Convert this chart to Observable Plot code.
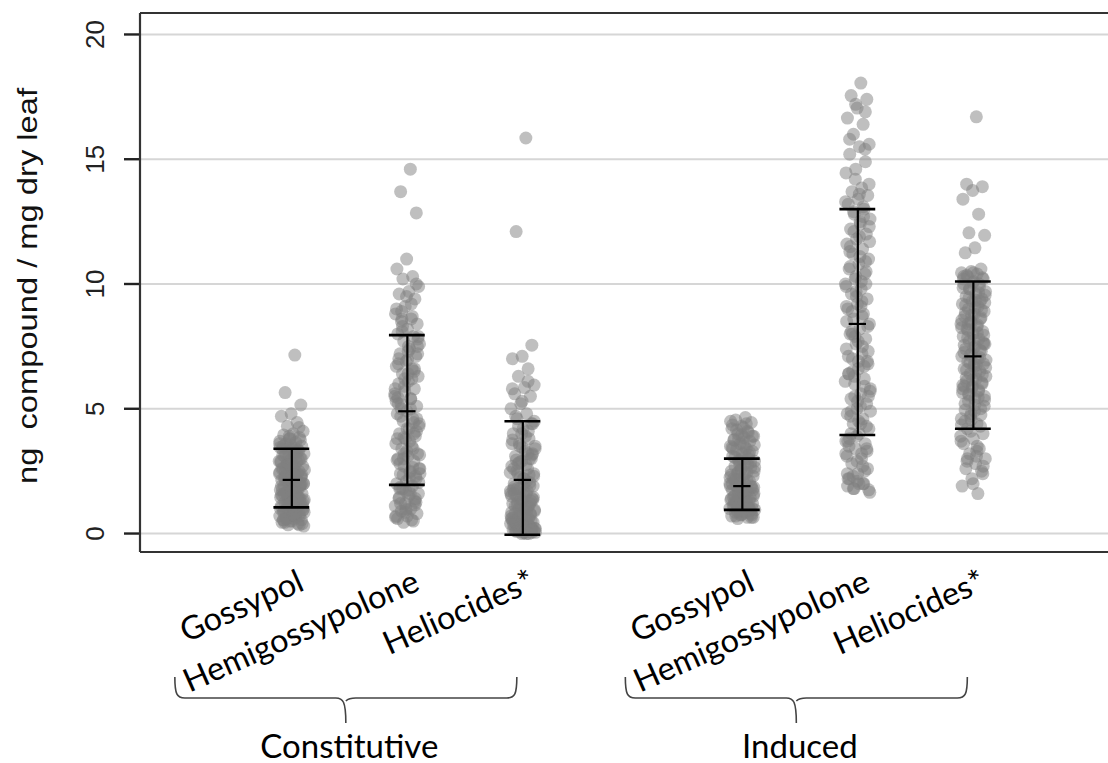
<!DOCTYPE html>
<html><head><meta charset="utf-8">
<script src="https://cdn.jsdelivr.net/npm/d3@7"></script>
<script src="https://cdn.jsdelivr.net/npm/@observablehq/plot@0.6"></script>
<style>
html,body{margin:0;padding:0;background:#fff;}
#chart svg text{white-space:pre;}
</style></head><body><div id="chart"></div>
<script>
// ---- data ----
const treatments = ["Constitutive", "Induced"];
const compounds = ["Gossypol", "Hemigossypolone", "Heliocides*"];
const yTicks = [0, 5, 10, 15, 20];
const yLabel = "ng  compound / mg dry leaf";

const constGossypol = [7.15, 5.65, 5.15, 4.8, 4.7, 4.45, 4.3, 4.1, 4.0, 3.95, 3.85, 3.8, 3.7, 3.65, 3.6, 3.5, 3.45, 3.4, 3.35, 3.3, 3.2, 3.15, 3.1, 3.0, 2.95, 2.9, 2.85, 2.8, 2.7, 2.65, 2.6, 2.5, 2.45, 2.4, 2.35, 2.3, 2.25, 2.2, 2.15, 2.1, 2.05, 2.0, 1.95, 1.9, 1.85, 1.8, 1.75, 1.7, 1.65, 1.6, 1.55, 1.5, 1.45, 1.4, 1.35, 1.3, 1.25, 1.2, 1.15, 1.1, 1.05, 1.0, 0.95, 0.9, 0.85, 0.8, 0.75, 0.7, 0.65, 0.6, 0.55, 0.5, 0.45, 0.4, 0.35, 0.3, 2.55, 2.25, 1.95, 1.7, 1.45, 3.25, 2.75, 1.2, 0.95,
  3.5, 3.3, 3.1, 2.9, 2.7, 2.5, 2.3, 2.1, 1.9, 1.7, 1.5, 1.3, 1.1, 0.9, 0.7, 0.5, 3.45, 3.05, 2.65, 2.35, 2.05, 1.75, 1.45, 1.15, 0.85, 0.6, 0.45, 3.75, 3.55, 2.85, 2.15, 1.55, 1.05, 0.75, 0.55, 4.25, 3.9,
  3.6, 3.4, 3.2, 3.0, 2.8, 2.6, 2.4, 2.2, 2.0, 1.8, 1.6, 1.4, 1.2, 1.0, 0.8, 0.6, 0.4, 3.35, 3.15, 2.95, 2.75, 2.55, 2.35, 2.15, 1.95, 1.75, 1.55, 1.35, 1.15, 0.95, 0.75, 0.55, 0.35, 3.8, 2.45, 1.65, 0.9, 2.0, 1.25];
const constHemigossypolone = [14.6, 13.7, 12.85, 11.0, 10.6, 10.3, 10.2, 9.9, 9.7, 9.6, 9.4, 9.1, 8.8, 8.6, 8.5, 8.4, 8.2, 8.0, 7.9, 7.7, 7.6, 7.4, 7.2, 7.1, 6.9, 6.7, 6.6, 6.4, 6.3, 6.1, 6.0, 5.8, 5.7, 5.5, 5.4, 5.2, 5.1, 4.9, 4.8, 4.6, 4.5, 4.3, 4.2, 4.0, 3.9, 3.8, 3.6, 3.5, 3.4, 3.2, 3.1, 3.0, 2.9, 2.7, 2.6, 2.5, 2.4, 2.2, 2.1, 2.0, 1.9, 1.8, 1.6, 1.5, 1.4, 1.3, 1.2, 1.1, 1.0, 0.9, 0.8, 0.7, 0.6, 0.5, 0.45, 4.4, 3.7, 2.8, 2.3, 1.7, 5.3, 6.2,
  8.1, 7.8, 7.3, 6.8, 6.5, 5.9, 5.6, 5.0, 4.7, 4.1, 3.3, 2.95, 2.65, 2.35, 2.05, 1.75, 1.45, 1.15, 0.85, 0.65, 9.2, 8.9, 7.5, 6.95, 5.45, 4.45, 3.85, 3.15, 2.45, 1.85, 1.25, 0.95,
  9.0, 8.7, 8.3, 7.9, 7.5, 7.0, 6.6, 6.2, 5.8, 5.4, 5.0, 4.6, 4.2, 3.8, 3.4, 3.0, 2.6, 2.2, 1.8, 1.4, 1.0, 0.7, 0.55, 8.6, 7.2, 6.4, 5.2, 4.0, 3.2, 2.4, 1.6, 1.2, 10.0, 9.5];
const constHeliocides = [15.85, 12.1, 7.55, 7.1, 7.0, 6.6, 6.3, 5.95, 5.85, 5.6, 5.5, 5.2, 5.0, 4.8, 4.6, 4.4, 4.2, 4.0, 3.8, 3.6, 3.5, 3.3, 3.1, 3.0, 2.9, 2.7, 2.6, 2.4, 2.3, 2.2, 2.0, 1.9, 1.8, 1.7, 1.6, 1.5, 1.4, 1.3, 1.2, 1.1, 1.0, 0.95, 0.9, 0.8, 0.75, 0.7, 0.6, 0.55, 0.5, 0.45, 0.4, 0.35, 0.3, 0.25, 0.2, 0.15, 0.1, 0.05, 0.0, 0.6, 0.4, 0.2, 0.1, 0.3, 0.5, 0.8, 1.2, 1.6, 2.1, 2.5, 3.2, 0.05, 0.15,
  0.0, 0.1, 0.2, 0.3, 0.4, 0.5, 0.65, 0.85, 1.05, 1.25, 1.45, 1.65, 1.85, 2.05, 2.25, 2.45, 2.75, 2.95, 3.15, 3.45, 3.75, 4.1, 4.3, 4.5, 0.05, 0.15, 0.25, 0.35, 0.7, 0.9, 1.15, 1.35, 1.55, 1.75, 2.35, 2.85, 3.4, 3.9, 4.7,
  4.4, 4.0, 3.6, 3.2, 2.8, 2.4, 2.0, 1.6, 1.2, 0.8, 0.4, 0.0, 0.1, 0.2, 0.3, 0.5, 0.6, 0.7, 0.9, 1.0, 1.1, 1.3, 1.4, 1.5, 1.7, 1.8, 1.9, 2.2, 2.6, 3.0, 3.5, 0.05, 0.25, 0.45, 0.15, 5.3, 5.8, 6.1];
const indGossypol = [4.65, 4.55, 4.45, 4.3, 4.2, 4.1, 4.0, 3.9, 3.85, 3.75, 3.7, 3.6, 3.5, 3.4, 3.35, 3.3, 3.2, 3.1, 3.0, 2.95, 2.9, 2.8, 2.7, 2.65, 2.6, 2.5, 2.45, 2.4, 2.3, 2.25, 2.2, 2.1, 2.05, 2.0, 1.95, 1.9, 1.85, 1.8, 1.75, 1.7, 1.65, 1.6, 1.55, 1.5, 1.45, 1.4, 1.35, 1.3, 1.25, 1.2, 1.15, 1.1, 1.05, 1.0, 0.95, 0.9, 0.85, 0.8, 0.75, 0.7, 0.65, 0.6, 1.5, 1.3, 1.1, 0.9, 2.2, 1.9, 1.7, 1.2, 1.0, 0.8,
  4.35, 4.05, 3.8, 3.55, 3.25, 3.05, 2.85, 2.55, 2.35, 2.15, 1.9, 1.75, 1.6, 1.45, 1.3, 1.15, 1.0, 0.85, 0.7, 0.65, 3.95, 3.45, 2.75, 2.45, 1.85, 1.55, 1.25, 0.95, 0.75, 4.5,
  4.4, 4.15, 3.9, 3.65, 3.4, 3.15, 2.9, 2.65, 2.4, 2.15, 1.9, 1.65, 1.4, 1.15, 0.9, 0.65, 4.25, 3.75, 3.25, 2.75, 2.25, 1.75, 1.25, 0.75, 3.0, 2.0, 1.0, 1.5, 2.5, 3.5];
const indHemigossypolone = [18.05, 17.55, 17.4, 17.05, 16.65, 16.4, 16.0, 15.6, 15.5, 15.2, 14.9, 14.6, 14.45, 13.85, 13.7, 13.55, 13.4, 13.2, 13.0, 12.8, 12.6, 12.4, 12.2, 12.0, 11.8, 11.6, 11.4, 11.2, 11.0, 10.8, 10.6, 10.4, 10.2, 10.0, 9.8, 9.6, 9.4, 9.2, 9.0, 8.8, 8.6, 8.4, 8.2, 8.0, 7.8, 7.6, 7.4, 7.2, 7.0, 6.8, 6.6, 6.4, 6.2, 6.0, 5.8, 5.6, 5.4, 5.2, 5.0, 4.8, 4.6, 4.4, 4.2, 4.0, 3.8, 3.6, 3.4, 3.2, 3.0, 2.8, 2.6, 2.4, 2.2, 2.0, 1.8, 1.65, 12.5, 11.5, 10.5, 9.5, 8.5, 7.5, 6.5, 5.5, 4.5, 3.5, 2.5, 7.9, 6.1, 9.1, 4.9, 3.3, 2.1, 1.9,
  13.1, 12.9, 12.3, 11.9, 11.3, 10.9, 10.3, 9.9, 9.3, 8.9, 8.3, 7.7, 7.1, 6.7, 6.3, 5.7, 5.1, 4.7, 4.3, 3.9, 3.1, 2.7, 2.3, 1.75, 2.0, 2.2, 15.4, 14.2, 13.3, 10.1, 8.1, 6.9, 5.3, 3.7,
  12.7, 12.1, 11.7, 11.1, 10.7, 10.0, 9.7, 9.1, 8.7, 8.0, 7.3, 6.9, 6.4, 5.9, 5.5, 4.9, 4.4, 4.0, 3.4, 2.9, 2.4, 2.0, 1.8, 14.0, 13.6, 15.8, 16.9, 17.2, 3.7, 3.2];
const indHeliocides = [16.7, 14.0, 13.9, 13.75, 13.4, 12.8, 12.05, 11.95, 11.45, 11.25, 10.6, 10.5, 10.45, 10.4, 10.3, 10.2, 10.1, 10.0, 9.9, 9.8, 9.7, 9.6, 9.5, 9.4, 9.3, 9.2, 9.1, 9.0, 8.9, 8.8, 8.7, 8.6, 8.5, 8.4, 8.3, 8.2, 8.1, 8.0, 7.9, 7.8, 7.7, 7.6, 7.5, 7.4, 7.3, 7.2, 7.1, 7.0, 6.9, 6.8, 6.7, 6.6, 6.5, 6.4, 6.3, 6.2, 6.1, 6.0, 5.9, 5.8, 5.7, 5.6, 5.5, 5.4, 5.2, 5.0, 4.8, 4.6, 4.4, 4.2, 4.0, 3.8, 3.6, 3.4, 3.2, 3.0, 2.8, 2.6, 2.5, 2.2, 1.9, 1.6, 8.4, 7.6, 6.8, 5.9, 9.3, 4.7, 3.9, 3.1,
  10.35, 10.25, 10.05, 9.85, 9.65, 9.45, 9.25, 9.05, 8.85, 8.65, 8.45, 8.25, 8.05, 7.85, 7.65, 7.45, 7.25, 7.05, 6.85, 6.65, 6.45, 6.25, 6.05, 5.85, 5.65, 5.45, 5.3, 5.1, 4.9, 4.5, 4.3, 4.1, 3.7, 3.3, 2.9, 2.4, 2.0,
  10.2, 10.0, 9.8, 9.55, 9.35, 9.15, 8.95, 8.75, 8.55, 8.35, 8.15, 7.95, 7.75, 7.55, 7.35, 7.15, 6.95, 6.75, 6.55, 6.35, 6.15, 5.95, 5.75, 5.55, 5.35, 5.15, 4.95, 4.75, 4.55, 4.35, 3.5, 3.0, 2.7, 10.45, 10.3];

// error bars (mean, lower, upper)
const meanValues  = [2.15, 4.9, 2.15, 1.9, 8.4, 7.1];
const lowerValues = [1.05, 1.95, -0.05, 0.95, 3.95, 4.2];
const upperValues = [3.4, 7.95, 4.5, 3.0, 13.0, 10.1];

const seriesValues = [constGossypol, constHemigossypolone, constHeliocides, indGossypol, indHemigossypolone, indHeliocides];

// ---- build tables ----
const groupGap = 3.9;
const stats = [];
const points = [];
treatments.forEach((t, ti) => {
  compounds.forEach((c, ci) => {
    const k = ti * 3 + ci;
    const pos = ti * groupGap + ci;
    stats.push({treatment: t, compound: c, pos, mean: meanValues[k], lo: lowerValues[k], hi: upperValues[k]});
    seriesValues[k].forEach((v, i) => {
      const jit = (((i + 1) * 0.6180339887) % 1 - 0.5) * 0.22;
      points.push({treatment: t, compound: c, px: pos + jit, v});
    });
  });
});
const groupInfo = treatments.map((t, ti) => ({treatment: t, center: ti * groupGap + 1}));

// custom mark: frame (top/left/bottom) and curly braces, drawn with Plot's x scale
function decorations(index, scales, values, dimensions) {
  const {width, height, marginLeft, marginTop, marginBottom} = dimensions;
  const yb = height - marginBottom;
  const g = d3.create("svg:g");
  const frame = g.append("g").attr("stroke", "#333").attr("stroke-width", 2.2).attr("fill", "none");
  frame.append("line").attr("x1", marginLeft).attr("x2", width).attr("y1", marginTop).attr("y2", marginTop);
  frame.append("line").attr("x1", marginLeft).attr("x2", marginLeft).attr("y1", marginTop).attr("y2", yb);
  frame.append("line").attr("x1", marginLeft).attr("x2", width).attr("y1", yb).attr("y2", yb);
  const x = scales.x;
  groupInfo.forEach(gi => {
    const c = x(gi.center) - 61;
    const L = c - 171, R = c + 171;
    const yA = yb + 125, yH = yb + 146, yT = yb + 171;
    const d = `M${L},${yA} C${L},${yH - 4} ${L + 2},${yH} ${L + 10},${yH} L${c - 10},${yH} C${c - 3},${yH} ${c},${yH + 3} ${c},${yT} M${c},${yH + 3} C${c},${yH + 3} ${c + 3},${yH} ${c + 10},${yH} L${R - 10},${yH} C${R - 2},${yH} ${R},${yH - 4} ${R},${yA}`;
    g.append("path").attr("d", d).attr("fill", "none").attr("stroke", "#444").attr("stroke-width", 1.6);
  });
  return g.node();
}

const labelFont = "Lato, 'Open Sans', sans-serif";

const chart = Plot.plot({
  width: 1108,
  height: 763,
  marginLeft: 140,
  marginRight: 0,
  marginTop: 13,
  marginBottom: 211,
  style: {fontFamily: "'Liberation Sans', Arial, sans-serif", background: "#fff", overflow: "visible"},
  x: {domain: [-1.31, 7.07], axis: null},
  y: {domain: [-0.76, 20.84]},
  marks: [
    Plot.gridY({ticks: yTicks, stroke: "#d6d6d6", strokeOpacity: 1, strokeWidth: 2}),
    Plot.dot(points, {x: "px", y: "v", r: 6.5, fill: "#7f7f7f", fillOpacity: 0.5, stroke: null}),
    Plot.ruleX(stats, {x: "pos", y1: "lo", y2: "hi", stroke: "#000", strokeWidth: 2.2}),
    Plot.ruleY(stats, {y: "hi", x1: d => d.pos - 0.155, x2: d => d.pos + 0.155, stroke: "#000", strokeWidth: 2.6}),
    Plot.ruleY(stats, {y: "lo", x1: d => d.pos - 0.155, x2: d => d.pos + 0.155, stroke: "#000", strokeWidth: 2.6}),
    Plot.ruleY(stats, {y: "mean", x1: d => d.pos - 0.075, x2: d => d.pos + 0.075, stroke: "#000", strokeWidth: 2.2}),
    Plot.axisY({ticks: yTicks, tickSize: 16, tickFormat: () => "", stroke: "#222", strokeWidth: 2.4}),
    Plot.text(yTicks, {y: d => d, text: d => String(d), frameAnchor: "left", textAnchor: "middle", dx: -45, rotate: -90, fontSize: 26, fill: "#222"}),
    Plot.text([yLabel], {text: d => d, frameAnchor: "left", textAnchor: "middle", dx: -112, dy: 3, rotate: -90, fontSize: 27, fill: "#111"}),
    Plot.text(stats, {x: "pos", text: "compound", frameAnchor: "bottom", dx: 14, dy: 37, rotate: -24, textAnchor: "end", lineAnchor: "bottom", fontSize: 32.5, fontFamily: labelFont, fill: "#000"}),
    Plot.text(groupInfo, {x: "center", text: "treatment", frameAnchor: "bottom", dx: -58, dy: 205, fontSize: 33, fontFamily: labelFont, fill: "#000"}),
    decorations
  ]
});
// stretch the rotated y label along its length to match the reference
d3.select(chart).selectAll("text").filter(function() { return this.textContent === yLabel; })
  .attr("textLength", 396).attr("lengthAdjust", "spacingAndGlyphs");
document.getElementById("chart").appendChild(chart);
</script>
</body></html>
